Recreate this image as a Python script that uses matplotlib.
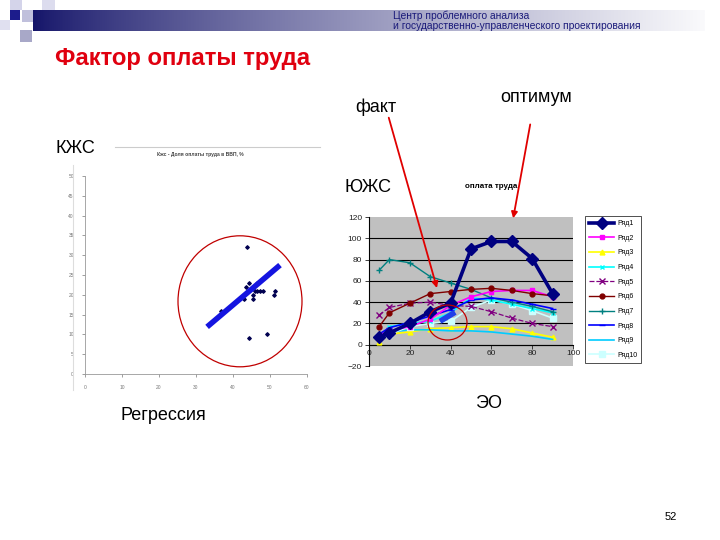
import numpy as np
import matplotlib
matplotlib.use("Agg")
import matplotlib.pyplot as plt
from matplotlib.patches import Ellipse, Rectangle

plt.rcParams['font.family'] = ['Liberation Sans', 'DejaVu Sans']

# ---------------- data ----------------
# Left chart: scatter "Кжс - Доля оплаты труда в ВВП, %"
scatter_x = [43.7, 44.3, 43.5, 43.0, 45.3, 45.3, 45.9, 46.6, 47.3, 48.0, 46.4, 51.4, 51.0, 36.7, 44.4, 49.3]
scatter_y = [32.1, 23.0, 21.9, 18.9, 20.0, 18.9, 21.0, 21.0, 21.0, 21.0, 22.9, 21.0, 20.0, 16.0, 9.0, 10.1]
regr_x = [33.0, 52.7]
regr_y = [11.9, 27.5]
left_xticks = [0, 10, 20, 30, 40, 50, 60]
left_yticks = [0, 5, 10, 15, 20, 25, 30, 35, 40, 45, 50]

# Right chart: "оплата труда"
series_x = [5, 10, 20, 30, 40, 50, 60, 70, 80, 90]
s1 = [7, 11, 20, 31, 39, 90, 97, 97, 81, 48]
s2 = [9, 13, 17, 24, 37, 45, 50, 51, 51, 45]
s3 = [3, 10, 12, 15, 16, 17, 17, 15, 11, 7]
s4 = [6, 17, 20, 22, 30, 44, 42, 38, 34, 30]
s5 = [28, 35, 39, 40, 37, 36, 31, 25, 20, 17]
s6 = [17, 30, 39, 48, 50, 52, 53, 51, 48, 46]
s7 = [70, 80, 77, 64, 58, 52, 44, 40, 36, 31]
s8 = [10, 16, 21, 27, 33, 42, 44, 42, 38, 34]
s9 = [5, 12, 14, 14, 13, 13, 12, 10, 8, 5]
s10 = [8, 10, 17, 20, 22, 35, 42, 38, 32, 25]
series_names = ["Ряд1", "Ряд2", "Ряд3", "Ряд4", "Ряд5", "Ряд6", "Ряд7", "Ряд8", "Ряд9", "Ряд10"]
fact_x = [34.8, 42.2]
fact_y = [22.0, 30.5]
right_xticks = [0, 20, 40, 60, 80, 100]
right_yticks = [-20, 0, 20, 40, 60, 80, 100, 120]

W, H = 720, 540
fig = plt.figure(figsize=(7.2, 5.4), dpi=100)
fig.patch.set_facecolor('white')

def fx(x):
    return x / W

def fy(y):
    return 1 - y / H

def rect_axes(x0, y0, x1, y1):
    return [fx(x0), fy(y1), (x1 - x0) / W, (y1 - y0) / H]

# ---------------- header decoration ----------------
bar = fig.add_axes(rect_axes(33, 10, 705, 31))
grad = np.linspace(0, 1, 400)
c0 = np.array([20, 20, 105]) / 255
c1 = np.array([250, 250, 252]) / 255
g = np.clip(grad ** 0.8, 0, 1)
img = (c0[None, :] * (1 - g[:, None]) + c1[None, :] * g[:, None])[None, :, :]
bar.imshow(img, aspect='auto', extent=[0, 1, 0, 1])
bar.axis('off')

for (x0, y0, x1, y1, col) in [
    (10, 0, 22, 10, '#d4d4ea'),
    (42, 0, 55, 10, '#dcdcee'),
    (0, 20, 10, 30, '#e0e0f0'),
    (22, 10, 33, 22, '#c0c0dc'),
    (20, 30, 32, 42, '#a8a8c8'),
    (10, 10, 20, 20, '#1c1c8c'),
]:
    fig.patches.append(Rectangle((fx(x0), fy(y1)), (x1 - x0) / W, (y1 - y0) / H,
                                 transform=fig.transFigure, facecolor=col,
                                 edgecolor='none', zorder=1))

fig.text(fx(393), fy(20.5), "Центр проблемного анализа\nи государственно-управленческого проектирования",
         fontsize=7.4, color='#1a1a7a', ha='left', va='center', linespacing=0.95)

fig.text(fx(55), fy(58), "Фактор оплаты труда", fontsize=17.2, fontweight='bold',
         color='#e0000f', ha='left', va='center')

# ---------------- texts ----------------
fig.text(fx(355), fy(107), "факт", fontsize=13, ha='left', va='center')
fig.text(fx(500), fy(97), "оптимум", fontsize=13, ha='left', va='center')
fig.text(fx(55), fy(148), "КЖС", fontsize=13, ha='left', va='center')
fig.text(fx(345), fy(187), "ЮЖС", fontsize=13, ha='left', va='center')
fig.text(fx(120), fy(415), "Регрессия", fontsize=13, ha='left', va='center')
fig.text(fx(475), fy(404), "ЭО", fontsize=13, ha='left', va='center')
fig.text(fx(665), fy(517), "52", fontsize=8, ha='left', va='center')

# ---------------- left scatter ----------------
axL = fig.add_axes(rect_axes(85, 176, 307, 374))
axL.scatter(scatter_x, scatter_y, marker='D', s=3, color='#000050', zorder=3)
axL.plot(regr_x, regr_y, color='#1414e0', lw=4, solid_capstyle='butt', zorder=4)
axL.set_xlim(0, 60)
axL.set_ylim(0, 50)
axL.set_xticks(left_xticks)
axL.set_yticks(left_yticks)
axL.tick_params(labelsize=3.5, colors='#777777', length=2, width=0.5, pad=6)
for s in ['top', 'right']:
    axL.spines[s].set_visible(False)
for s in ['left', 'bottom']:
    axL.spines[s].set_color('#999999')
    axL.spines[s].set_linewidth(0.6)
axL.set_facecolor('none')
fig.text(fx(200), fy(155), "Кжс - Доля оплаты труда в ВВП, %", fontsize=3.6,
         fontweight='bold', color='#444444', ha='center', va='center')
fig.add_artist(plt.Line2D([fx(115), fx(320)], [fy(147), fy(147)], color='#cccccc', lw=0.8))
fig.add_artist(plt.Line2D([fx(73), fx(73)], [fy(165), fy(390)], color='#dddddd', lw=0.8))

fig.patches.append(Ellipse((fx(240), fy(301.3)), 124 / W, 131 / H, transform=fig.transFigure,
                           fill=False, edgecolor='#c00000', lw=0.9, zorder=5))

# ---------------- right line chart ----------------
axR = fig.add_axes(rect_axes(369, 217, 573, 366))
axR.set_facecolor('#c0c0c0')
for yv in range(0, 101, 20):
    axR.axhline(yv, color='black', lw=0.8, zorder=1)

styles = [
    dict(color='#000080', lw=2.6, marker='D', ms=6),
    dict(color='#ff00ff', lw=1.2, marker='s', ms=3.5),
    dict(color='#ffff00', lw=1.2, marker='^', ms=3.5),
    dict(color='#00ffff', lw=1.2, marker='x', ms=3.5),
    dict(color='#800080', lw=0.9, marker='x', ms=4.5, ls=(0, (4, 1.5))),
    dict(color='#800000', lw=1.0, marker='o', ms=3.5),
    dict(color='#008080', lw=1.0, marker='+', ms=4),
    dict(color='#0000ff', lw=1.2, marker='_', ms=4),
    dict(color='#00ccff', lw=1.2, marker=None, ms=3),
    dict(color='#ccffff', lw=1.2, marker='s', ms=4),
]
all_series = [s1, s2, s3, s4, s5, s6, s7, s8, s9, s10]
zorders = [10, 6, 4, 5, 5, 7, 5, 5, 4, 4]
handles = []
for ys, st, name, z in zip(all_series, styles, series_names, zorders):
    h, = axR.plot(series_x, ys, label=name, zorder=z, **st)
    handles.append(h)

axR.plot(fact_x, fact_y, color='#2040e8', lw=4, solid_capstyle='butt', zorder=11)

axR.set_xlim(0, 100)
axR.set_ylim(-20, 120)
axR.set_xticks(right_xticks)
axR.set_yticks(right_yticks)
axR.spines['bottom'].set_position(('data', 0))
for s in ['top', 'right']:
    axR.spines[s].set_visible(False)
axR.spines['left'].set_linewidth(0.8)
axR.spines['bottom'].set_linewidth(0.8)
axR.tick_params(labelsize=6, colors='#222222', length=3, width=0.6, pad=2)
axR.tick_params(axis='x', direction='out', pad=1)

fig.text(fx(491), fy(187), "оплата труда", fontsize=5.8, fontweight='bold',
         ha='center', va='center')

fig.patches.append(Ellipse((fx(447.5), fy(322.5)), 39 / W, 35 / H, transform=fig.transFigure,
                           fill=False, edgecolor='#c00000', lw=0.9, zorder=20))

leg = fig.legend(handles=handles, loc='upper left', bbox_to_anchor=(fx(585), fy(216)),
                 fontsize=5, frameon=True, fancybox=False, edgecolor='black',
                 labelspacing=1.1, handlelength=3.6, borderaxespad=0, borderpad=0.6,
                 handletextpad=0.4)
leg.get_frame().set_linewidth(0.6)

# ---------------- arrows ----------------
for (x0, y0, x1, y1) in [(388, 115, 437.7, 290.7), (530.7, 121.7, 512.7, 221)]:
    fig.add_artist(matplotlib.patches.FancyArrowPatch(
        (fx(x0), fy(y0)), (fx(x1), fy(y1)), transform=fig.transFigure,
        arrowstyle='-|>', mutation_scale=9, color='#e00000', lw=1.3, zorder=30))

fig.savefig("out.png", dpi=100)
